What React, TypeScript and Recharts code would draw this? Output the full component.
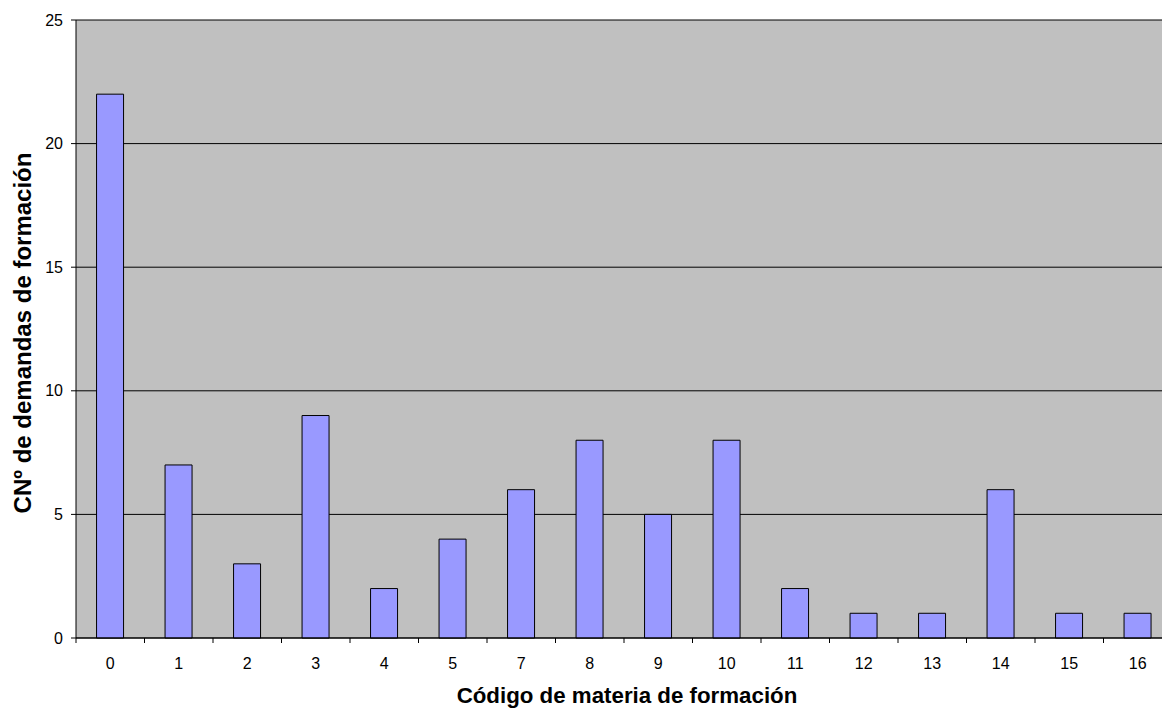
import React from 'react';
import { BarChart, Bar, XAxis, YAxis, CartesianGrid } from 'recharts';

const categories = ['0', '1', '2', '3', '4', '5', '7', '8', '9', '10', '11', '12', '13', '14', '15', '16'];
const demandas = [22, 7, 3, 9, 2, 4, 6, 8, 5, 8, 2, 1, 1, 6, 1, 1];
const yTicks = [0, 5, 10, 15, 20, 25];
const xTitle = 'Código de materia de formación';
const yTitle = 'CNº de demandas de formación';

const data = categories.map((c, i) => ({ codigo: c, valor: demandas[i] }));

const FONT = '"Liberation Sans", Arial, sans-serif';

function XTick(props: any) {
  const { x, y, payload } = props;
  const off = payload && typeof payload.offset === 'number' ? payload.offset : 0;
  return (
    <g>
      <line x1={x - off} x2={x - off} y1={y} y2={y + 5} stroke="#000" strokeWidth={1} />
      <text x={x} y={y + 31} textAnchor="middle" fontSize={16} fontFamily={FONT} fill="#000">
        {payload.value}
      </text>
    </g>
  );
}

function XTitle(props: any) {
  const vb = props.viewBox || { x: 76, y: 638, width: 1096, height: 70 };
  return (
    <text
      x={vb.x + vb.width / 2 + 3}
      y={vb.y + 65}
      textAnchor="middle"
      fontSize={22.3}
      fontWeight="bold"
      fontFamily={FONT}
      fill="#000"
    >
      {xTitle}
    </text>
  );
}

function YTitle(props: any) {
  const vb = props.viewBox || { x: 0, y: 20, width: 76, height: 618 };
  const cx = 31;
  const cy = vb.y + vb.height / 2 + 4;
  return (
    <text
      x={0}
      y={0}
      transform={`translate(${cx}, ${cy}) rotate(-90)`}
      textAnchor="middle"
      fontSize={24}
      fontWeight="bold"
      fontFamily={FONT}
      fill="#000"
    >
      {yTitle}
    </text>
  );
}

export default function App() {
  return (
    <div
      style={{
        position: 'absolute',
        top: 0,
        left: 0,
        width: 1162,
        height: 708,
        overflow: 'hidden',
        background: '#fff',
      }}
    >
      <BarChart
        width={1180}
        height={708}
        data={data}
        margin={{ top: 20, right: 8, left: 0, bottom: 0 }}
        barCategoryGap="30%"
      >
        <CartesianGrid vertical={false} stroke="#000" strokeWidth={1} fill="#C0C0C0" />
        <XAxis
          dataKey="codigo"
          height={70}
          tickSize={0}
          tickMargin={0}
          tickLine={false}
          axisLine={{ stroke: '#000', strokeWidth: 1 }}
          tick={<XTick />}
          interval={0}
          label={(p: any) => <XTitle {...p} />}
        />
        <YAxis
          width={76}
          domain={[0, 25]}
          ticks={yTicks}
          interval={0}
          tickSize={5}
          tickMargin={8}
          tickLine={{ stroke: '#000' }}
          axisLine={{ stroke: '#000', strokeWidth: 1 }}
          tick={{ fontSize: 16, fontFamily: FONT, fill: '#000' }}
          label={(p: any) => <YTitle {...p} />}
        />
        <Bar dataKey="valor" fill="#9999FF" stroke="#000" strokeWidth={1} isAnimationActive={false} />
      </BarChart>
    </div>
  );
}
